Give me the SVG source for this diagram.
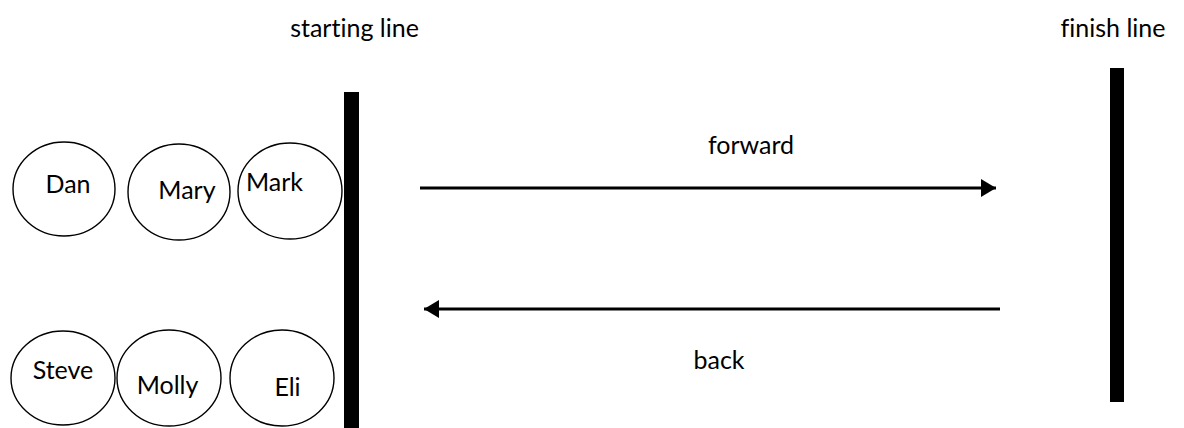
<svg xmlns="http://www.w3.org/2000/svg" width="1184" height="428" viewBox="0 0 1184 428">
<defs>
<style>
text{font-family:Lato,"Open Sans","Liberation Sans",sans-serif;font-size:25px;fill:#000;text-anchor:middle;font-variant-ligatures:none;font-feature-settings:"liga" 0}
.p ellipse{fill:#fff;stroke:#000;stroke-width:1.4}
.bar{fill:#000}
.conn line{stroke:#000;stroke-width:3}
</style>
<marker id="ah" viewBox="0 0 15 18" refX="15" refY="9" markerWidth="15" markerHeight="18" markerUnits="userSpaceOnUse" orient="auto">
<path d="M0,0 L15,9 L0,18 Z" fill="#000"/>
</marker>
</defs>
<rect width="1184" height="428" fill="#fff"/>
<g id="starting-line">
<rect class="bar" x="344" y="92" width="15" height="336"/>
<text x="354.5" y="37">starting line</text>
</g>
<g id="finish-line">
<rect class="bar" x="1110" y="68" width="14" height="334"/>
<text x="1113" y="37">finish line</text>
</g>
<g id="dan" class="p"><ellipse cx="64" cy="189" rx="51" ry="47"/><text x="68" y="193">Dan</text></g>
<g id="mary" class="p"><ellipse cx="179" cy="192" rx="51" ry="48"/><text x="187" y="199">Mary</text></g>
<g id="mark" class="p"><ellipse cx="290" cy="191" rx="52" ry="48"/><text x="274.5" y="191">Mark</text></g>
<g id="steve" class="p"><ellipse cx="63" cy="378" rx="52" ry="47"/><text x="63" y="379">Steve</text></g>
<g id="molly" class="p"><ellipse cx="169" cy="378" rx="52" ry="48"/><text x="167.5" y="394">Molly</text></g>
<g id="eli" class="p"><ellipse cx="282" cy="378" rx="52" ry="48"/><text x="287.5" y="396">Eli</text></g>
<g id="connectors" class="conn">
<line x1="420" y1="188" x2="996" y2="188" marker-end="url(#ah)"/>
<line x1="1000" y1="309" x2="424" y2="309" marker-end="url(#ah)"/>
</g>
<g id="labels">
<text x="751" y="154">forward</text>
<text x="719" y="369">back</text>
</g>
</svg>
